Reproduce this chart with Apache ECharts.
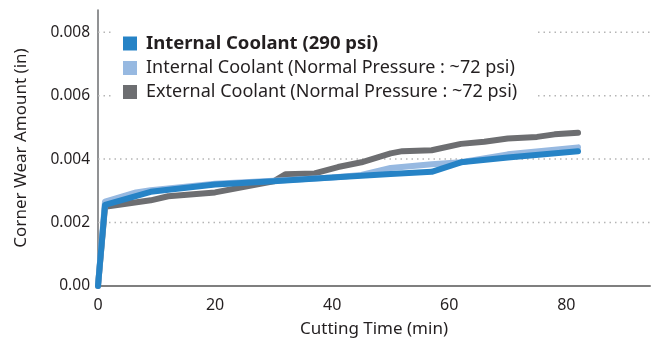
<!DOCTYPE html>
<html>
<head>
<meta charset="utf-8">
<script src="https://cdn.jsdelivr.net/npm/echarts@6/dist/echarts.min.js"></script>
<style>
  html, body { margin: 0; padding: 0; background: #fff; }
  #chart { width: 658px; height: 343px; }
</style>
</head>
<body>
<div id="chart"></div>
<script>
// Corner wear vs cutting time for three coolant set-ups: [minutes, inches]
const seriesNames = [
  'Internal Coolant (290 psi)',
  'Internal Coolant (Normal Pressure : ~72 psi)',
  'External Coolant (Normal Pressure : ~72 psi)'
];

const highPressureInternal = [
  [0, 0], [1.2, 0.00256], [9, 0.00297], [20, 0.0032], [30, 0.0033],
  [40, 0.00342], [50, 0.00353], [57, 0.0036], [62, 0.0039], [70, 0.00405],
  [82, 0.00425]
];

const normalInternal = [
  [0, 0], [1.2, 0.00266], [6.5, 0.00295], [9, 0.00302], [20, 0.00322],
  [30, 0.00332], [40, 0.00342], [45, 0.0035], [50, 0.00372], [57, 0.00384],
  [62, 0.0039], [70, 0.00415], [82, 0.00437]
];

const normalExternal = [
  [0, 0], [1.2, 0.0025], [9, 0.0027], [12, 0.00283], [20, 0.00295],
  [30, 0.0033], [32, 0.00352], [37, 0.00355], [41, 0.00375], [45, 0.0039],
  [50, 0.00418], [52, 0.00425], [57, 0.00428], [62, 0.00448], [66, 0.00455],
  [70, 0.00465], [75, 0.0047], [78, 0.00478], [82, 0.00483]
];

const gridValues = [0.002, 0.004, 0.006, 0.008];
const yTickLabels = { 0: '0.00', 0.002: '0.002', 0.004: '0.004', 0.006: '0.006', 0.008: '0.008' };
const xTickLabels = [0, 20, 40, 60, 80];

const X_MAX = 94.3;
const Y_MAX = 0.0087;

const colors = ['#2683c6', '#97b9e1', '#6d6e71'];
const fontFamily = 'Noto Sans, Open Sans, sans-serif';

const chart = echarts.init(document.getElementById('chart'), null, { renderer: 'canvas' });

const lineSeries = (name, data, color, z) => ({
  name,
  type: 'line',
  data,
  z,
  symbol: 'none',
  lineStyle: { color, width: 6, cap: 'round', join: 'round' },
  itemStyle: { color },
  emphasis: { disabled: true },
  animation: false
});

// dotted horizontal guide lines across the plot
const guideSeries = gridValues.map(v => ({
  name: 'guide-' + v,
  type: 'line',
  data: [[0, v], [X_MAX, v]],
  z: 1,
  symbol: 'none',
  silent: true,
  lineStyle: { color: '#b5b5b5', width: 1.5, type: [1.5, 4] },
  emphasis: { disabled: true },
  animation: false
}));

const option = {
  animation: false,
  color: colors,
  textStyle: { fontFamily },
  grid: { left: 98, right: 8, top: 10, bottom: 55 },
  legend: {
    orient: 'vertical',
    left: 111,
    top: 30,
    padding: [4, 18, 4, 12],
    backgroundColor: '#ffffff',
    icon: 'rect',
    itemWidth: 14,
    itemHeight: 14,
    itemGap: 6,
    z: 10,
    textStyle: { fontFamily, fontSize: 18, color: '#231f20', padding: [0, 0, 0, 4] },
    data: [
      { name: seriesNames[0], textStyle: { fontWeight: 'bold', fontSize: 18.5 } },
      { name: seriesNames[1] },
      { name: seriesNames[2] }
    ]
  },
  xAxis: {
    type: 'value',
    min: 0,
    max: X_MAX,
    interval: 20,
    name: 'Cutting Time (min)',
    nameLocation: 'middle',
    nameGap: 35,
    nameTextStyle: { fontSize: 17, color: '#231f20' },
    axisLine: { show: true, lineStyle: { color: '#7f7f7f', width: 2 } },
    axisTick: { show: false },
    splitLine: { show: false },
    axisLabel: {
      fontSize: 16,
      color: '#231f20',
      margin: 11,
      formatter: v => (xTickLabels.includes(v) ? String(v) : '')
    }
  },
  yAxis: {
    type: 'value',
    min: 0,
    max: Y_MAX,
    interval: 0.002,
    name: 'Corner Wear Amount (in)',
    nameLocation: 'middle',
    nameGap: 68,
    nameTextStyle: { fontSize: 17, color: '#231f20' },
    axisLine: { show: true, lineStyle: { color: '#6d6e71', width: 1.5 } },
    axisTick: { show: false },
    splitLine: { show: false },
    axisLabel: {
      fontSize: 15.5,
      color: '#231f20',
      margin: 8,
      formatter: v => {
        const key = Math.round(v * 1000) / 1000;
        return Math.abs(v - key) < 1e-9 && yTickLabels[key] !== undefined ? yTickLabels[key] : '';
      }
    }
  },
  series: [
    ...guideSeries,
    lineSeries(seriesNames[2], normalExternal, colors[2], 2),
    lineSeries(seriesNames[1], normalInternal, colors[1], 3),
    lineSeries(seriesNames[0], highPressureInternal, colors[0], 4)
  ]
};

chart.setOption(option);
</script>
</body>
</html>
